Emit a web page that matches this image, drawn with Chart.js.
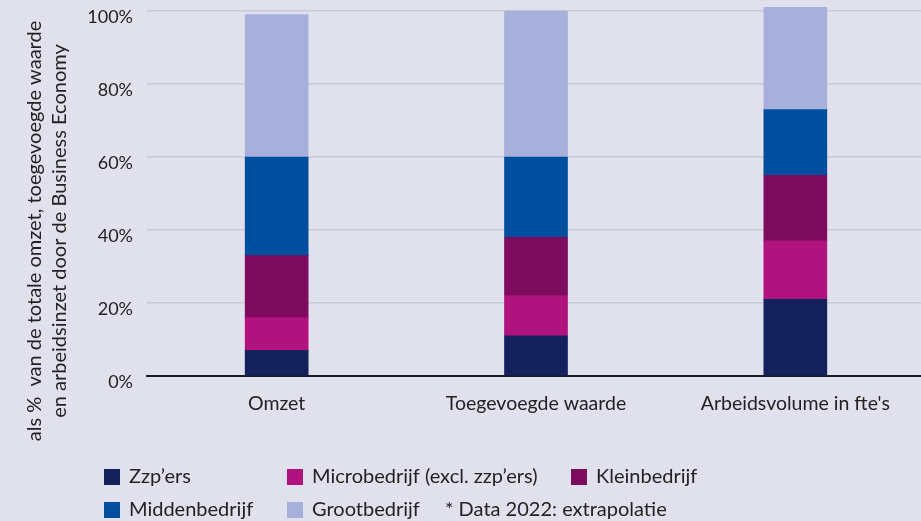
<!DOCTYPE html>
<html>
<head>
<meta charset="utf-8">
<script src="https://cdn.jsdelivr.net/npm/chart.js@4"></script>
<style>
  html, body { margin: 0; padding: 0; overflow: hidden; background: #e1e1ed; }
  #wrap { width: 921px; height: 521px; overflow: hidden; }
</style>
</head>
<body>
<div id="wrap"><canvas id="chart" width="925" height="521"></canvas></div>
<script>
// data (percent of total)
const categories = ['Omzet', 'Toegevoegde waarde', "Arbeidsvolume in fte's"];
const zzp = [7, 11, 21];
const micro = [9, 11, 16];
const klein = [17, 16, 18];
const midden = [27, 22, 18];
const groot = [39, 40, 28];
const yTicks = [0, 20, 40, 60, 80, 100];
const seriesNames = ["Zzp’ers", 'Microbedrijf (excl. zzp’ers)', 'Kleinbedrijf', 'Middenbedrijf', 'Grootbedrijf'];
const note = '* Data 2022: extrapolatie';
const yTitle = ['als %  van de totale omzet, toegevoegde waarde', 'en arbeidsinzet door de Business Economy'];

const colors = ['#13225d', '#b0127e', '#7d0b5e', '#004e9e', '#a7b0da'];
const FONT = 'Lato';
const TEXT = '#222222';

// y title + bottom legend drawn by hand (legend is left aligned in 3 columns)
const extras = {
  id: 'extras',
  afterDraw(chart) {
    const ctx = chart.ctx;
    ctx.save();
    ctx.fillStyle = TEXT;
    ctx.font = '20px ' + FONT;
    ctx.textAlign = 'center';
    ctx.textBaseline = 'middle';
    ctx.translate(0, 231);
    ctx.rotate(-Math.PI / 2);
    ctx.fillText(yTitle[0], 0, 35);
    ctx.fillText(yTitle[1], 0, 60);
    ctx.restore();

    const cols = [104, 287, 571];
    const rows = [469, 502];
    ctx.save();
    ctx.font = '20px ' + FONT;
    ctx.textBaseline = 'middle';
    ctx.textAlign = 'left';
    chart.data.datasets.forEach((ds, i) => {
      const x = cols[i % 3];
      const y = rows[Math.floor(i / 3)];
      ctx.fillStyle = ds.backgroundColor;
      ctx.fillRect(x, y, 16, 16);
      ctx.fillStyle = TEXT;
      ctx.fillText(ds.label, x + 25, y + 8);
    });
    ctx.fillText(note, 445, rows[1] + 8);
    ctx.restore();
  }
};

const bgPlugin = {
  id: 'bg',
  beforeDraw(chart) {
    const ctx = chart.ctx;
    ctx.save();
    ctx.fillStyle = '#e1e1ed';
    ctx.fillRect(0, 0, chart.width, chart.height);
    ctx.restore();
  }
};

const values = [zzp, micro, klein, midden, groot];

new Chart(document.getElementById('chart'), {
  type: 'bar',
  data: {
    labels: categories,
    datasets: values.map((v, i) => ({
      label: seriesNames[i],
      data: v,
      backgroundColor: colors[i],
      borderWidth: 0,
      barThickness: 63,
      clip: false
    }))
  },
  options: {
    responsive: false,
    animation: false,
    layout: { padding: { top: 11, right: 0, bottom: 100, left: 0 } },
    plugins: {
      legend: { display: false },
      tooltip: { enabled: false }
    },
    scales: {
      x: {
        stacked: true,
        grid: { display: false, drawTicks: false },
        border: { display: true, color: '#1b1b24', width: 2 },
        ticks: { color: TEXT, font: { family: FONT, size: 19.5 }, padding: 16, maxRotation: 0 },
        afterFit: s => { s.height = 45; s.paddingLeft = 0; s.paddingRight = 0; }
      },
      y: {
        stacked: true,
        min: 0,
        max: 100,
        afterBuildTicks: s => { s.ticks = yTicks.map(v => ({ value: v })); },
        grid: { color: '#c9c9d3', lineWidth: 1.5, drawTicks: false },
        border: { display: false },
        ticks: {
          color: TEXT,
          font: { family: FONT, size: 18 },
          padding: 14,
          labelOffset: 6,
          callback: v => v + '%'
        },
        afterFit: s => { s.width = 147; s.paddingTop = 0; s.paddingBottom = 0; }
      }
    }
  },
  plugins: [bgPlugin, extras]
});
</script>
</body>
</html>
